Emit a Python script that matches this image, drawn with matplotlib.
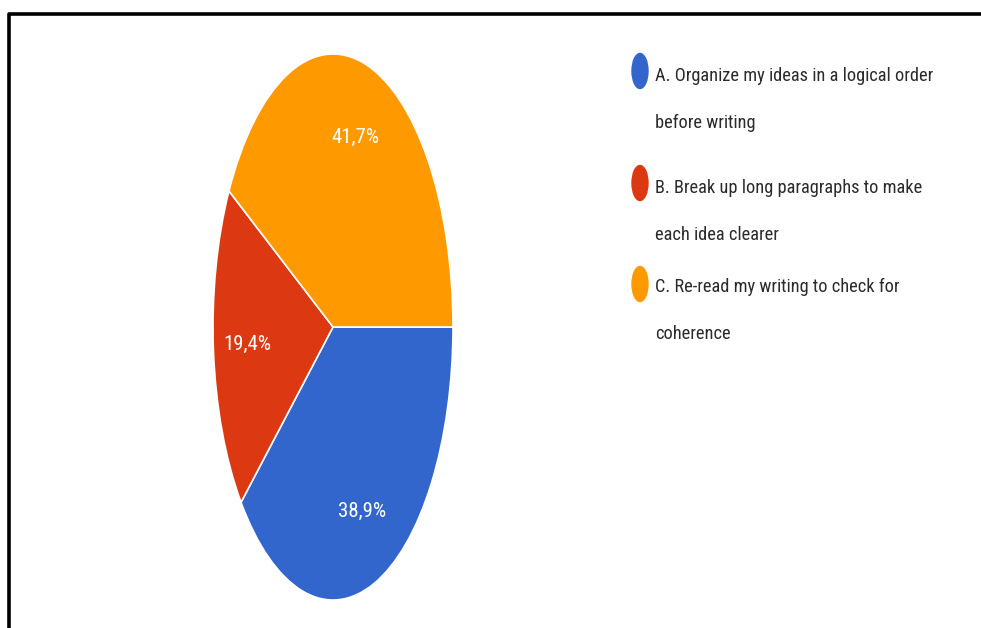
import matplotlib.pyplot as plt
from matplotlib.lines import Line2D
from matplotlib.patches import Ellipse

# survey answers and their shares (%)
answers = ['A. Organize my ideas in a logical order\nbefore writing',
           'B. Break up long paragraphs to make\neach idea clearer',
           'C. Re-read my writing to check for\ncoherence']
shares = [38.9, 19.4, 41.7]
colors = ['#3366CC', '#DC3912', '#FF9900']

W, H = 981, 628
font = ['Roboto Condensed', 'Roboto', 'DejaVu Sans']

fig = plt.figure(figsize=(W / 100, H / 100), dpi=100)

# pie squeezed into a tall ellipse
ax = fig.add_axes([213 / W, (H - 600) / H, 240 / W, 546 / H])
wedges, texts, autotexts = ax.pie(
    shares, colors=colors, startangle=0, counterclock=False,
    autopct=lambda p: f'{p:.1f}%'.replace('.', ','), pctdistance=0.72,
    wedgeprops=dict(edgecolor='white', linewidth=1.2),
    textprops=dict(color='white', fontsize=15, family=font))
ax.set_aspect('auto')
ax.set_xlim(-1, 1)
ax.set_ylim(-1, 1)

# legend on the right, one text per line
dot_y = [71, 183, 284]
text_y = [74, 186, 285]
for label, color, yd, yt in zip(answers, colors, dot_y, text_y):
    fig.patches.append(Ellipse((640 / W, 1 - yd / H), 16 / W, 35 / H,
                               transform=fig.transFigure, color=color))
    for i, line in enumerate(label.split('\n')):
        fig.text(655 / W, 1 - (yt + 47 * i) / H, line, fontsize=13.2, family=font,
                 color='#2b2b2b', va='center_baseline', ha='left')

# black frame along the left and top edges
fig.lines.append(Line2D([8.5 / W, 8.5 / W, 1.0], [0.0, 1 - 13.5 / H, 1 - 13.5 / H],
                        transform=fig.transFigure, color='black', linewidth=2.6))

fig.savefig('out.png', dpi=100)
